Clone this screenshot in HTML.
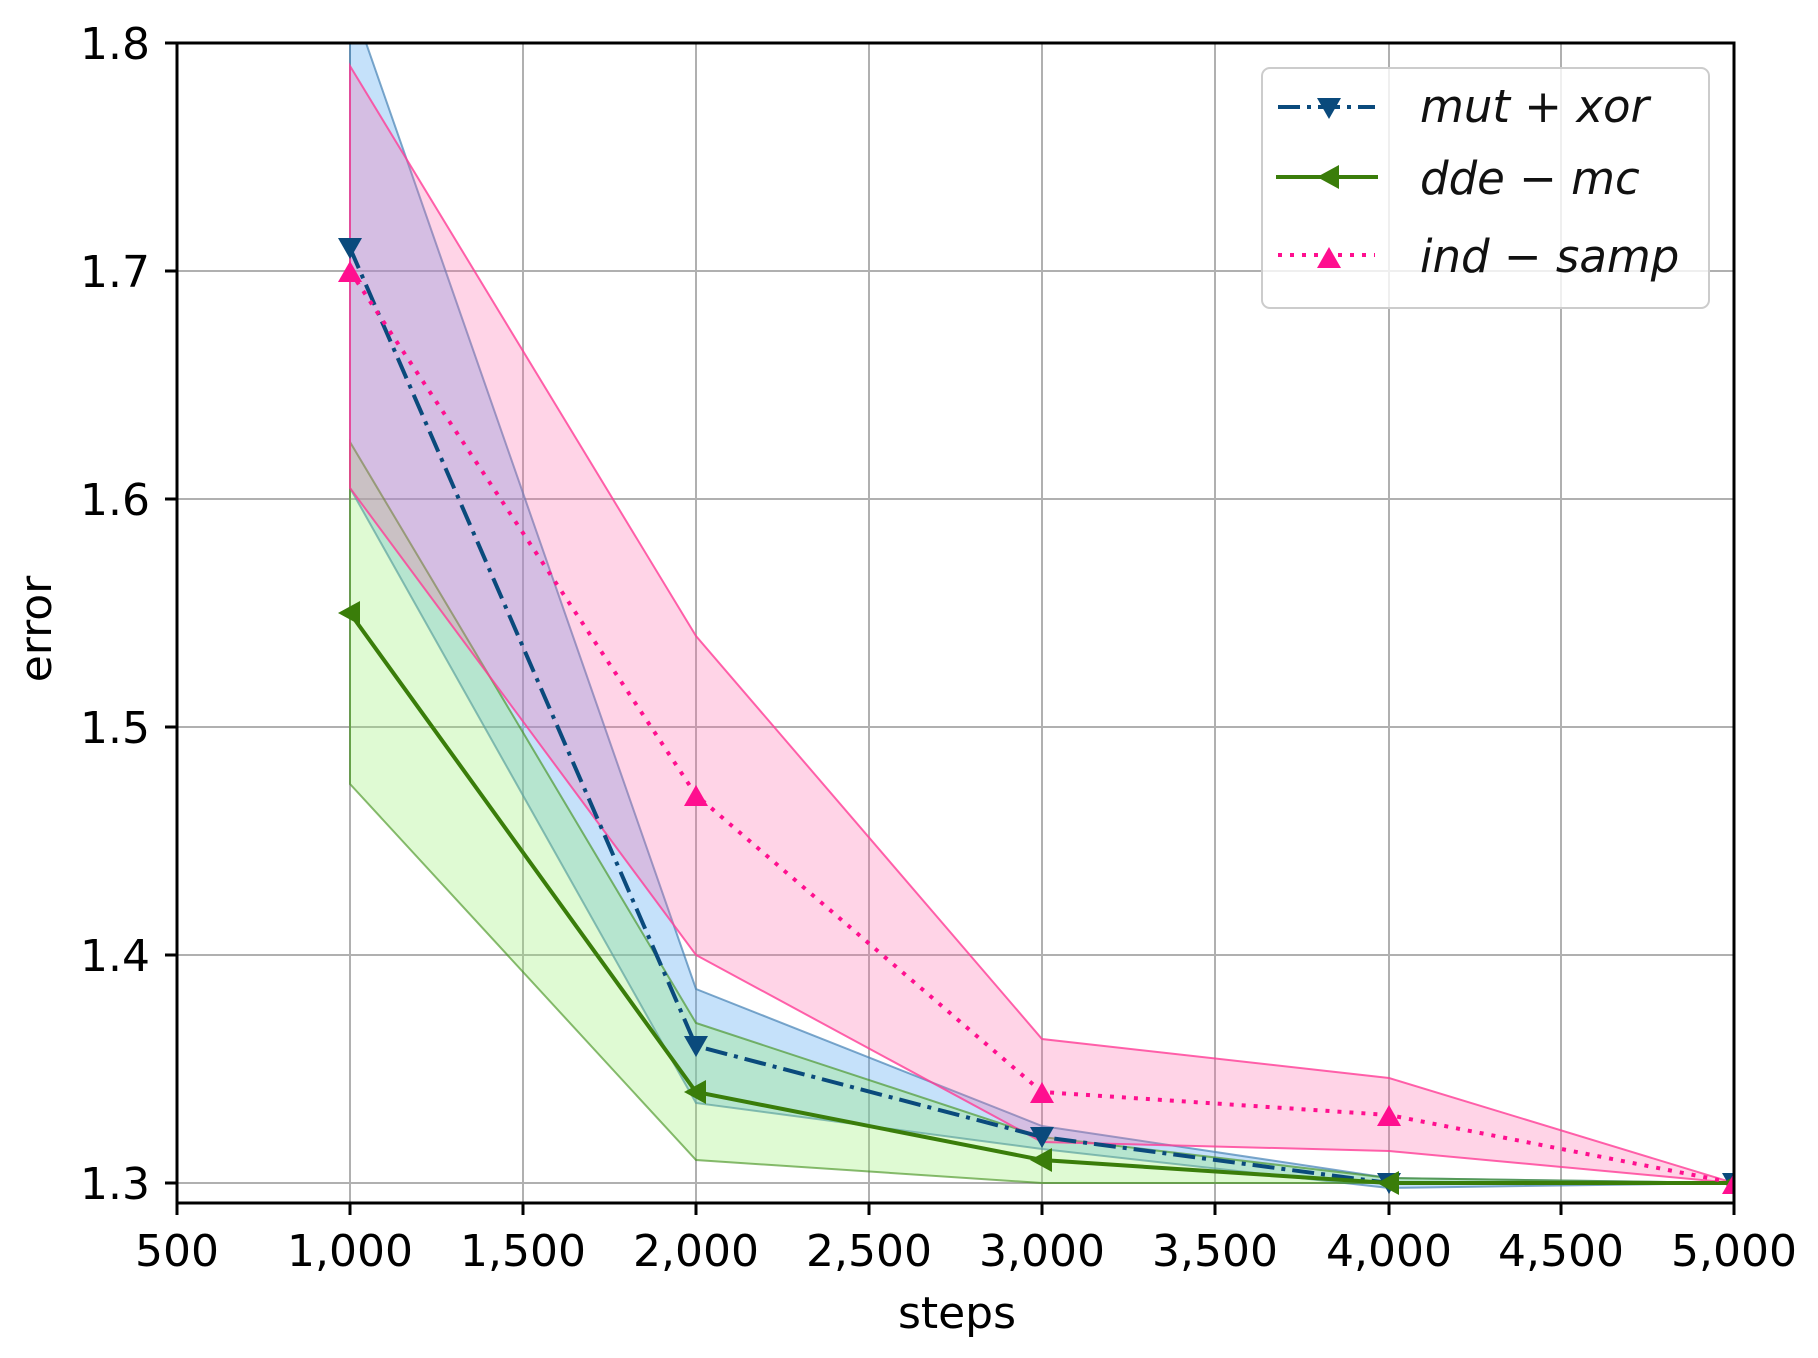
<!DOCTYPE html>
<html><head><style>body{margin:0;background:#fff}</style></head><body>
<svg width="1818" height="1353" viewBox="0 0 1818 1353" xmlns="http://www.w3.org/2000/svg" font-family="DejaVu Sans, Liberation Sans, sans-serif">
<defs><clipPath id="c"><rect x="177" y="43" width="1557" height="1160"/></clipPath></defs>
<g stroke="#b0b0b0" stroke-width="2">
<line x1="350" y1="43" x2="350" y2="1203"/><line x1="523" y1="43" x2="523" y2="1203"/><line x1="696" y1="43" x2="696" y2="1203"/><line x1="869" y1="43" x2="869" y2="1203"/><line x1="1042" y1="43" x2="1042" y2="1203"/><line x1="1215" y1="43" x2="1215" y2="1203"/><line x1="1389" y1="43" x2="1389" y2="1203"/><line x1="1561" y1="43" x2="1561" y2="1203"/>
<line x1="177" y1="271" x2="1734" y2="271"/><line x1="177" y1="499" x2="1734" y2="499"/><line x1="177" y1="727" x2="1734" y2="727"/><line x1="177" y1="955" x2="1734" y2="955"/><line x1="177" y1="1183" x2="1734" y2="1183"/>
</g>
<g clip-path="url(#c)">
<polygon points="350,-3 696,989 1042,1126 1389,1178 1734,1183 1734,1183 1389,1188 1042,1149 696,1103 350,488" fill="rgba(90,170,240,0.35)" stroke="rgba(70,130,180,0.7)" stroke-width="2"/>
<polygon points="350,442 696,1023 1042,1137 1389,1178 1734,1183 1734,1183 1389,1183 1042,1183 696,1160 350,784" fill="rgba(150,240,110,0.3)" stroke="rgba(60,140,20,0.6)" stroke-width="2"/>
<polygon points="350,66 696,636 1042,1039 1389,1078 1734,1183 1734,1183 1389,1151 1042,1142 696,955 350,488" fill="rgba(255,100,170,0.28)" stroke="rgba(255,60,150,0.8)" stroke-width="2"/>
<polyline points="350,248 696,1046 1042,1137 1389,1183 1734,1183" fill="none" stroke="#0a4a7c" stroke-width="4" stroke-dasharray="22,7,4,7"/>
<polyline points="350,613 696,1092 1042,1160 1389,1183 1734,1183" fill="none" stroke="#3a7d0a" stroke-width="4"/>
<polyline points="350,271 696,795 1042,1092 1389,1115 1734,1183" fill="none" stroke="#ff0f8f" stroke-width="4" stroke-dasharray="4,8"/>
<g fill="#0a4a7c"><path d="M338,238h24l-12,21z"/><path d="M684,1036h24l-12,21z"/><path d="M1030,1127h24l-12,21z"/><path d="M1377,1173h24l-12,21z"/><path d="M1722,1173h24l-12,21z"/></g>
<g fill="#3a7d0a"><path d="M338,613l22,-12v24z"/><path d="M684,1092l22,-12v24z"/><path d="M1030,1160l22,-12v24z"/><path d="M1377,1183l22,-12v24z"/><path d="M1722,1183l22,-12v24z"/></g>
<g fill="#ff0f8f"><path d="M338,282h24l-12,-21z"/><path d="M684,806h24l-12,-21z"/><path d="M1030,1103h24l-12,-21z"/><path d="M1377,1126h24l-12,-21z"/><path d="M1722,1194h24l-12,-21z"/></g>
</g>
<rect x="177" y="43" width="1557" height="1160" fill="none" stroke="#000" stroke-width="3"/>
<g stroke="#000" stroke-width="3">
<line x1="165" y1="43" x2="177" y2="43"/><line x1="165" y1="271" x2="177" y2="271"/><line x1="165" y1="499" x2="177" y2="499"/><line x1="165" y1="727" x2="177" y2="727"/><line x1="165" y1="955" x2="177" y2="955"/><line x1="165" y1="1183" x2="177" y2="1183"/>
<line x1="177" y1="1203" x2="177" y2="1215"/><line x1="350" y1="1203" x2="350" y2="1215"/><line x1="523" y1="1203" x2="523" y2="1215"/><line x1="696" y1="1203" x2="696" y2="1215"/><line x1="869" y1="1203" x2="869" y2="1215"/><line x1="1042" y1="1203" x2="1042" y2="1215"/><line x1="1215" y1="1203" x2="1215" y2="1215"/><line x1="1389" y1="1203" x2="1389" y2="1215"/><line x1="1561" y1="1203" x2="1561" y2="1215"/><line x1="1734" y1="1203" x2="1734" y2="1215"/>
</g>
<g font-size="44" fill="#000" text-anchor="end">
<text x="150" y="59">1.8</text><text x="150" y="287">1.7</text><text x="150" y="515">1.6</text><text x="150" y="743">1.5</text><text x="150" y="971">1.4</text><text x="150" y="1199">1.3</text>
</g>
<g font-size="44" fill="#000" text-anchor="middle">
<text x="177" y="1266">500</text><text x="350" y="1266">1,000</text><text x="523" y="1266">1,500</text><text x="696" y="1266">2,000</text><text x="869" y="1266">2,500</text><text x="1042" y="1266">3,000</text><text x="1215" y="1266">3,500</text><text x="1389" y="1266">4,000</text><text x="1561" y="1266">4,500</text><text x="1734" y="1266">5,000</text>
<text x="957" y="1328">steps</text>
<text transform="translate(51,629) rotate(-90)">error</text>
</g>
<rect x="1262" y="68" width="447" height="240" rx="8" fill="rgba(255,255,255,0.8)" stroke="#ccc" stroke-width="2"/>
<line x1="1278" y1="107" x2="1375" y2="107" stroke="#0a4a7c" stroke-width="4" stroke-dasharray="22,7,4,7"/>
<path d="M1317,98h24l-12,21z" fill="#0a4a7c"/>
<line x1="1276" y1="177" x2="1378" y2="177" stroke="#3a7d0a" stroke-width="4"/>
<path d="M1317,177l22,-12v24z" fill="#3a7d0a"/>
<line x1="1278" y1="255" x2="1375" y2="255" stroke="#ff0f8f" stroke-width="4" stroke-dasharray="4,8"/>
<path d="M1317,268h24l-12,-21z" fill="#ff0f8f"/>
<g font-size="45" font-style="italic" fill="#111">
<text x="1420" y="122">mut + xor</text><text x="1420" y="194">dde − mc</text><text x="1420" y="272">ind − samp</text>
</g>
</svg>
</body></html>
